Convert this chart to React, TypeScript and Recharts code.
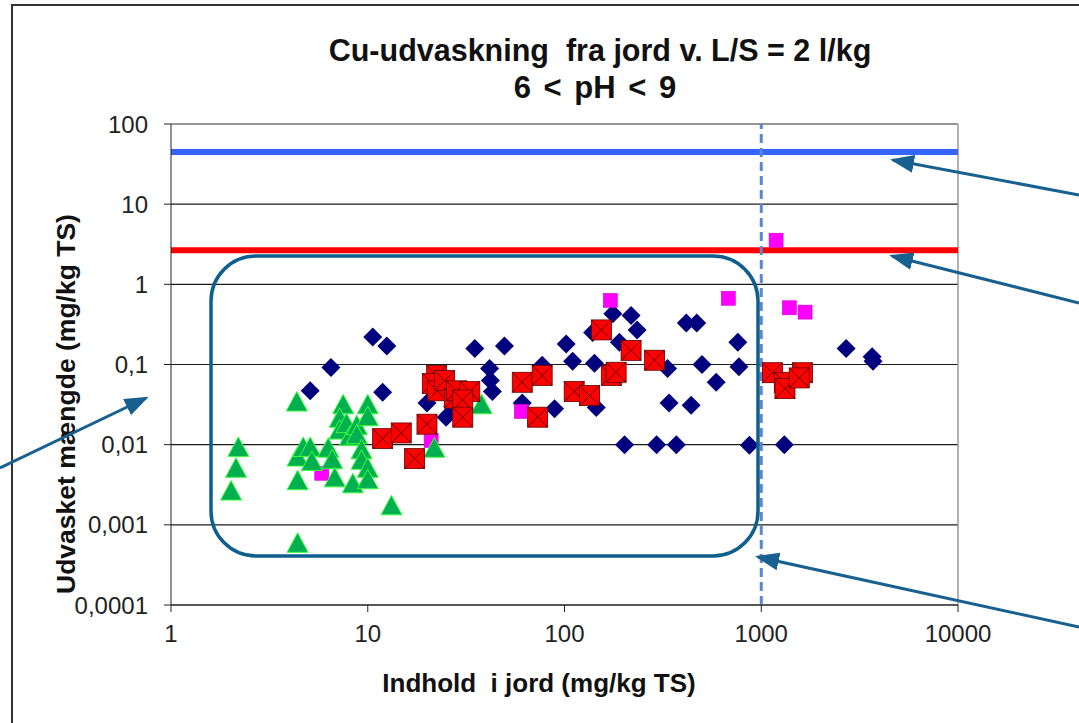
import { ScatterChart, Scatter, XAxis, YAxis, CartesianGrid, ReferenceLine } from "recharts"

// x = Indhold i jord (mg/kg TS), y = Udvasket mængde (mg/kg TS)
const navyPoints: [number, number][] = [
    [5.1, 0.047], [6.5, 0.092], [10.6, 0.22], [12.5, 0.17], [11.9, 0.045], [20, 0.033],
    [25, 0.022], [27, 0.03], [35, 0.158], [49.5, 0.17], [41.6, 0.089], [42, 0.063], [43, 0.046],
    [61, 0.033], [77, 0.098], [89, 0.028], [102, 0.18], [110, 0.11], [139, 0.25], [142, 0.104],
    [145, 0.029], [176, 0.43], [190, 0.19], [218, 0.41], [234, 0.27], [202, 0.01], [294, 0.01],
    [370, 0.01], [334, 0.089], [340, 0.033], [416, 0.33], [470, 0.33], [440, 0.031], [500, 0.1],
    [590, 0.06], [760, 0.19], [770, 0.094], [870, 0.0098], [1310, 0.01], [2700, 0.158],
    [3660, 0.125], [3700, 0.11],
]

const magentaPoints: [number, number][] = [
    [5.84, 0.0044], [21, 0.0113], [60.4, 0.026], [171, 0.63], [680, 0.67], [1190, 3.55],
    [1390, 0.51], [1670, 0.45],
]

const greenPoints: [number, number][] = [
    [2.2, 0.0091], [2.14, 0.005], [2.02, 0.0026], [4.36, 0.0335], [4.4, 0.0069], [4.4, 0.0035],
    [4.7, 0.0091], [5.1, 0.0091], [5.2, 0.0061], [4.4, 0.00058], [6.3, 0.0089], [6.6, 0.0064],
    [6.8, 0.0038], [7.5, 0.031], [7.2, 0.021], [7.2, 0.015], [7.8, 0.018], [8.1, 0.0125],
    [8.4, 0.0032], [8.8, 0.017], [8.8, 0.0131], [9.3, 0.0085], [10, 0.031], [10, 0.022],
    [9.3, 0.0063], [10, 0.005], [10, 0.0036], [13.2, 0.0017], [21.8, 0.0089], [37.9, 0.031],
]

const redPoints: [number, number][] = [
    [11.9, 0.0119], [14.8, 0.014], [17.3, 0.0067], [20, 0.018], [22.4, 0.073], [21.3, 0.058],
    [22.6, 0.047], [24.6, 0.063], [27.6, 0.038], [28.3, 0.047], [33, 0.046], [30.4, 0.036],
    [30.4, 0.022], [61, 0.06], [77, 0.073], [73, 0.022], [112, 0.046], [134, 0.041], [173, 0.073],
    [183, 0.08], [154, 0.27], [218, 0.15], [287, 0.113], [1140, 0.079], [1310, 0.06],
    [1620, 0.079], [1320, 0.05], [1560, 0.068],
]

const xTicks = [1, 10, 100, 1000, 10000]
const yTicks = [0.0001, 0.001, 0.01, 0.1, 1, 10, 100]
const blueLimit = 44.7
const redLimit = 2.66
const contentLimit = 1000

const toRows = (pts: [number, number][]) => pts.map(([x, y]) => ({ x, y }))
const fmtY = (v: number) => String(v).replace(".", ",")

const Diamond = (p: any) => (
    <polygon
        points={`${p.cx},${p.cy - 9.5} ${p.cx + 9.5},${p.cy} ${p.cx},${p.cy + 9.5} ${p.cx - 9.5},${p.cy}`}
        fill="#00007F"
    />
)

const MagentaSquare = (p: any) => (
    <rect x={p.cx - 7} y={p.cy - 7} width={14} height={14} fill="#FF00FF" stroke="#D000D0" strokeWidth={0.6} />
)

const Triangle = (p: any) => (
    <polygon
        points={`${p.cx},${p.cy - 11} ${p.cx + 10.5},${p.cy + 8.5} ${p.cx - 10.5},${p.cy + 8.5}`}
        fill="#00B050"
        stroke="#3CFF3C"
        strokeWidth={1}
    />
)

const CrossSquare = (p: any) => {
    const h = 10
    return (
        <g>
            <rect x={p.cx - h} y={p.cy - h} width={h * 2} height={h * 2} fill="#FF0000" stroke="#600000" strokeWidth={0.8} />
            <line x1={p.cx - h} y1={p.cy - h} x2={p.cx + h} y2={p.cy + h} stroke="#400000" strokeWidth={0.8} />
            <line x1={p.cx + h} y1={p.cy - h} x2={p.cx - h} y2={p.cy + h} stroke="#400000" strokeWidth={0.8} />
        </g>
    )
}

const arrowColor = "#17608F"
const font = "'Liberation Sans', Arial, sans-serif"

export default function App() {
    return (
        <div style={{ position: "relative", width: 1079, height: 723, background: "#fff", fontFamily: font }}>
            <style>{`body{margin:0}`}</style>
            <ScatterChart width={1079} height={723} margin={{ top: 124, right: 121, bottom: 0, left: 0 }}>
                <CartesianGrid vertical={false} stroke="#1a1a1a" strokeWidth={1.2} />
                <XAxis
                    dataKey="x"
                    type="number"
                    scale="log"
                    domain={[1, 10000]}
                    ticks={xTicks}
                    allowDataOverflow
                    height={118}
                    stroke="#222"
                    tickSize={7}
                    tickMargin={13}
                    tick={{ fill: "#222", fontSize: 24, fontFamily: font }}
                />
                <YAxis
                    dataKey="y"
                    type="number"
                    scale="log"
                    domain={[0.0001, 100]}
                    ticks={yTicks}
                    allowDataOverflow
                    width={171}
                    stroke="#222"
                    tickSize={7}
                    tickMargin={16}
                    tickFormatter={fmtY}
                    tick={{ fill: "#222", fontSize: 24, fontFamily: font }}
                />
                <ReferenceLine x={10000} stroke="#999" strokeWidth={1.5} />
                <ReferenceLine y={100} stroke="#999" strokeWidth={1.5} />
                <ReferenceLine y={blueLimit} stroke="#3366FF" strokeWidth={6} />
                <ReferenceLine y={redLimit} stroke="#FF0000" strokeWidth={6} />
                <ReferenceLine x={contentLimit} stroke="#5B86D0" strokeWidth={3} strokeDasharray="9 5" />
                <Scatter data={toRows(navyPoints)} shape={Diamond} isAnimationActive={false} />
                <Scatter data={toRows(magentaPoints)} shape={MagentaSquare} isAnimationActive={false} />
                <Scatter data={toRows(greenPoints)} shape={Triangle} isAnimationActive={false} />
                <Scatter data={toRows(redPoints)} shape={CrossSquare} isAnimationActive={false} />
            </ScatterChart>
            <svg width={1079} height={723} style={{ position: "absolute", left: 0, top: 0, pointerEvents: "none" }}>
                <defs>
                    <marker id="head" markerWidth="8" markerHeight="6" refX="7" refY="3" orient="auto" markerUnits="strokeWidth">
                        <path d="M0,0 L8,3 L0,6 z" fill={arrowColor} />
                    </marker>
                </defs>
                <rect x={12} y={5} width={1100} height={740} fill="none" stroke="#333" strokeWidth={2} />
                <text x={600} y={61} textAnchor="middle" fontSize={30.5} fontWeight="bold" fill="#111" style={{ whiteSpace: "pre" }}>
                    {"Cu-udvaskning  fra jord v. L/S = 2 l/kg"}
                </text>
                <text x={595} y={98} textAnchor="middle" fontSize={31} fontWeight="bold" fill="#111" wordSpacing={4}>
                    6 &lt; pH &lt; 9
                </text>
                <text x={539} y={692} textAnchor="middle" fontSize={26} fontWeight="bold" fill="#111" style={{ whiteSpace: "pre" }}>
                    {"Indhold  i jord (mg/kg TS)"}
                </text>
                <text
                    x={0}
                    y={0}
                    transform="translate(75,404) rotate(-90)"
                    textAnchor="middle"
                    fontSize={26.5}
                    fontWeight="bold"
                    fill="#111"
                >
                    Udvasket mængde (mg/kg TS)
                </text>
                <rect x={211} y={256} width={547} height={300} rx={45} ry={45} fill="none" stroke="#0E5F8E" strokeWidth={3.5} />
                <line x1={0} y1={468} x2={146} y2={398} stroke={arrowColor} strokeWidth={3} markerEnd="url(#head)" />
                <line x1={1079} y1={195} x2={893} y2={160} stroke={arrowColor} strokeWidth={3} markerEnd="url(#head)" />
                <line x1={1079} y1={303} x2={892} y2={256} stroke={arrowColor} strokeWidth={3} markerEnd="url(#head)" />
                <line x1={1079} y1={627} x2={758} y2={557} stroke={arrowColor} strokeWidth={3} markerEnd="url(#head)" />
            </svg>
        </div>
    )
}
